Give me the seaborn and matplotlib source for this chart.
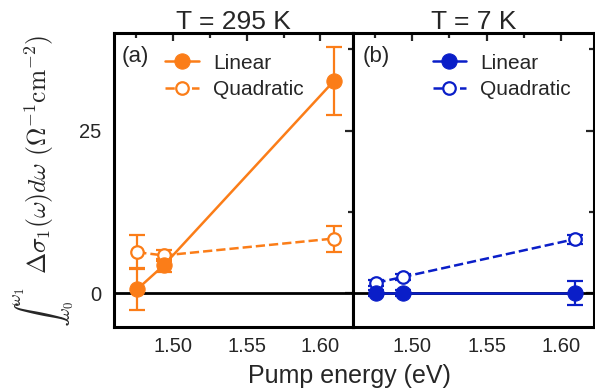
import matplotlib
matplotlib.use("Agg")
import matplotlib.pyplot as plt
import seaborn as sns
import numpy as np
import pandas as pd
from matplotlib.ticker import MultipleLocator, FormatStrFormatter

sns.set_theme(style="white")
plt.rcParams['font.family'] = ['Liberation Sans', 'DejaVu Sans']
plt.rcParams['mathtext.fontset'] = 'cm'

# Data
energy = [1.476, 1.494, 1.609]
lin_295 = [0.6, 4.3, 32.6]
lin_295_err = [3.2, 1.0, 5.2]
quad_295 = [6.3, 5.8, 8.4]
quad_295_err = [2.6, 0.8, 2.0]
lin_7 = [0.0, 0.0, 0.0]
lin_7_err = [0.5, 0.5, 1.8]
quad_7 = [1.6, 2.5, 8.3]
quad_7_err = [0.5, 0.5, 0.7]
titles = ["T = 295 K", "T = 7 K"]
panel_labels = ["(a)", "(b)"]
series_names = ["Linear", "Quadratic"]

orange = '#fb7d18'
blue = '#0a1ec8'

W, H = 595, 390
fig = plt.figure(figsize=(5.95, 3.9), dpi=100)
ax1 = fig.add_axes([0.1916, 0.1615, 0.4017, 0.754])
ax2 = fig.add_axes([0.5933, 0.1615, 0.4050, 0.754], sharey=ax1)

panels = [
    (ax1, lin_295, lin_295_err, quad_295, quad_295_err, orange, 0.215, 0.033),
    (ax2, lin_7, lin_7_err, quad_7, quad_7_err, blue, 0.33, 0.04),
]

for i, (ax, lin, linerr, quad, quaderr, col, legx, labx) in enumerate(panels):
    ax.axhline(0, color='black', lw=2, zorder=1)
    df_l = pd.DataFrame({'x': energy, 'y': lin})
    df_q = pd.DataFrame({'x': energy, 'y': quad})
    ax.errorbar(energy, quad, yerr=quaderr, fmt='none', ecolor=col,
                elinewidth=1.6, capsize=5.5, capthick=1.6, zorder=2)
    ax.errorbar(energy, lin, yerr=linerr, fmt='none', ecolor=col,
                elinewidth=1.6, capsize=5.5, capthick=1.6, zorder=2)
    sns.lineplot(data=df_q, x='x', y='y', ax=ax, color=col, marker='o',
                 markersize=9, markerfacecolor='white', markeredgecolor=col,
                 markeredgewidth=1.6, linestyle='--', lw=1.8,
                 label=series_names[1], zorder=3)
    sns.lineplot(data=df_l, x='x', y='y', ax=ax, color=col, marker='o',
                 markersize=11, markerfacecolor=col, markeredgecolor=col,
                 linestyle='-', lw=1.8, label=series_names[0], zorder=4)
    handles, labels = ax.get_legend_handles_labels()
    order = [labels.index(series_names[0]), labels.index(series_names[1])]
    ax.legend([handles[k] for k in order], [labels[k] for k in order],
              loc='upper left', bbox_to_anchor=(legx, 0.93), frameon=False,
              fontsize=15, handlelength=1.6, handletextpad=0.7,
              labelspacing=0.35, borderpad=0, borderaxespad=0)
    ax.text(labx, 0.955, panel_labels[i], transform=ax.transAxes,
            ha='left', va='top', fontsize=16)
    ax.set_title(titles[i], fontsize=19, pad=3)
    ax.set_xlim(1.4603, 1.622)
    ax.set_ylim(-5.2, 40)
    ax.xaxis.set_major_locator(MultipleLocator(0.05))
    ax.xaxis.set_minor_locator(MultipleLocator(0.025))
    ax.yaxis.set_major_locator(MultipleLocator(25))
    ax.yaxis.set_minor_locator(MultipleLocator(12.5))
    ax.xaxis.set_major_formatter(FormatStrFormatter('%.2f'))
    ax.tick_params(which='both', direction='in', top=True, right=True,
                   width=1.6, labelsize=14.5)
    ax.tick_params(axis='x', which='both', pad=7)
    ax.tick_params(axis='y', which='both', pad=9)
    ax.tick_params(which='major', length=6)
    ax.tick_params(which='minor', length=3.5)
    for sp in ax.spines.values():
        sp.set_linewidth(2.2)
        sp.set_color('black')
    ax.set_xlabel('')
    ax.set_ylabel('')

ax2.tick_params(labelleft=False)


def ink_box(s, fs):
    """Ink extent (pixels, image coords) of rotated text anchored at centre (W/2, H/2)."""
    tf = plt.figure(figsize=(W / 100, H / 100), dpi=100)
    tf.patch.set_facecolor('white')
    tf.text(0.5, 0.5, s, rotation=90, ha='center', va='center', fontsize=fs)
    tf.canvas.draw()
    img = np.asarray(tf.canvas.buffer_rgba())[:, :, :3].astype(int)
    plt.close(tf)
    mask = img.sum(axis=2) < 600
    ys, xs = np.nonzero(mask)
    return xs.min(), xs.max(), ys.min(), ys.max()


def place_ink(s, fs, cx, cy, target_w=None):
    x0, x1, y0, y1 = ink_box(s, fs)
    if target_w is not None:
        fs = fs * target_w / (x1 - x0 + 1)
        x0, x1, y0, y1 = ink_box(s, fs)
    dx = (x0 + x1) / 2 - W / 2
    dy = (y0 + y1) / 2 - H / 2
    ax_x = cx - dx
    ax_y = cy - dy
    fig.text(ax_x / W, 1 - ax_y / H, s, rotation=90, ha='center', va='center',
             fontsize=fs)


# y-axis label: large integral sign with limits, then the integrand and units
place_ink(r'$\int$', 30, 40.5, 314.5, target_w=56)
place_ink(r'$\omega_1$', 13, 17, 297)
place_ink(r'$\omega_0$', 13, 66, 311)
fig.text(47 / W, 1 - 274 / H,
         r'$\Delta\sigma_1(\omega)d\omega\ (\Omega^{-1}\mathrm{cm}^{-2})$',
         rotation=90, rotation_mode='anchor', ha='left', va='baseline',
         fontsize=18.3)

fig.text(0.588, 0.018, 'Pump energy (eV)', ha='center', va='baseline', fontsize=18)

fig.savefig('out.png', dpi=100)
